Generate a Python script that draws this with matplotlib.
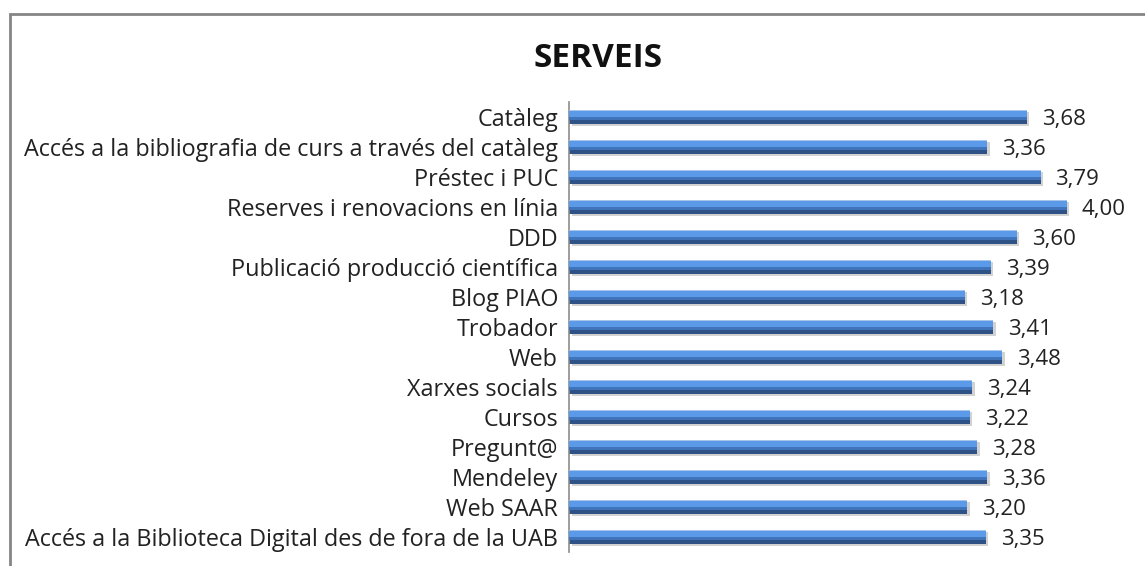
import matplotlib.pyplot as plt
from matplotlib.patches import Rectangle
import numpy as np

plt.rcParams['font.family'] = ['Open Sans', 'DejaVu Sans']

categories = ['Catàleg',
              'Accés a la bibliografia de curs a través del catàleg',
              'Préstec i PUC',
              'Reserves i renovacions en línia',
              'DDD',
              'Publicació producció científica',
              'Blog PIAO',
              'Trobador',
              'Web',
              'Xarxes socials',
              'Cursos',
              'Pregunt@',
              'Mendeley',
              'Web SAAR',
              'Accés a la Biblioteca Digital des de fora de la UAB']
values = [3.68, 3.36, 3.79, 4.00, 3.60, 3.39, 3.18, 3.41, 3.48,
          3.24, 3.22, 3.28, 3.36, 3.20, 3.35]
value_labels = ['3,68', '3,36', '3,79', '4,00', '3,60', '3,39', '3,18', '3,41',
                '3,48', '3,24', '3,22', '3,28', '3,36', '3,20', '3,35']

fig = plt.figure(figsize=(11.45, 5.66), dpi=100)
ax = fig.add_axes([0.497, 0.0247, 0.489, 0.7951])

y = np.arange(len(categories))
h = 0.48

# layered bars to imitate the bevelled Excel look (y axis is inverted, so "-" is up)
ax.barh(y + 0.06, values, height=h, left=0.02, color='#d2d2d2', zorder=1)
ax.barh(y, values, height=h, color='#2e5286', zorder=2)
ax.barh(y - 0.15 * h, values, height=0.7 * h, color='#3f74ba', zorder=3)
ax.barh(y - 0.21 * h, values, height=0.42 * h, color='#5b9ae8', zorder=4)
ax.barh(y - 0.46 * h, values, height=0.08 * h, color='#a9c6ea', zorder=5)

for yi, v, lab in zip(y, values, value_labels):
    ax.text(v + 0.12, yi, lab, va='center_baseline', ha='left', fontsize=16,
            color='#222222')

ax.set_xlim(0, 4.5)
ax.set_ylim(len(categories) - 0.5, -0.5)
ax.set_yticks(y)
ax.set_yticklabels(categories, fontsize=16.8, color='#222222')
ax.tick_params(axis='y', length=0, pad=8)
ax.xaxis.set_visible(False)
for s in ['top', 'right', 'bottom']:
    ax.spines[s].set_visible(False)
ax.spines['left'].set_color('#8c8c8c')
ax.spines['left'].set_linewidth(1.2)

fig.text(0.522, 0.882, 'SERVEIS', ha='center', va='baseline',
         fontsize=24, fontweight='bold', color='#111111')

# chart frame (only top and left edges fall inside the picture)
fig.add_artist(Rectangle((10 / 1145, -0.2), 1.2, 1.2 - 14 / 566,
                         transform=fig.transFigure, fill=False,
                         edgecolor='#858585', linewidth=2, clip_on=False))

fig.savefig('out.png', dpi=100)
